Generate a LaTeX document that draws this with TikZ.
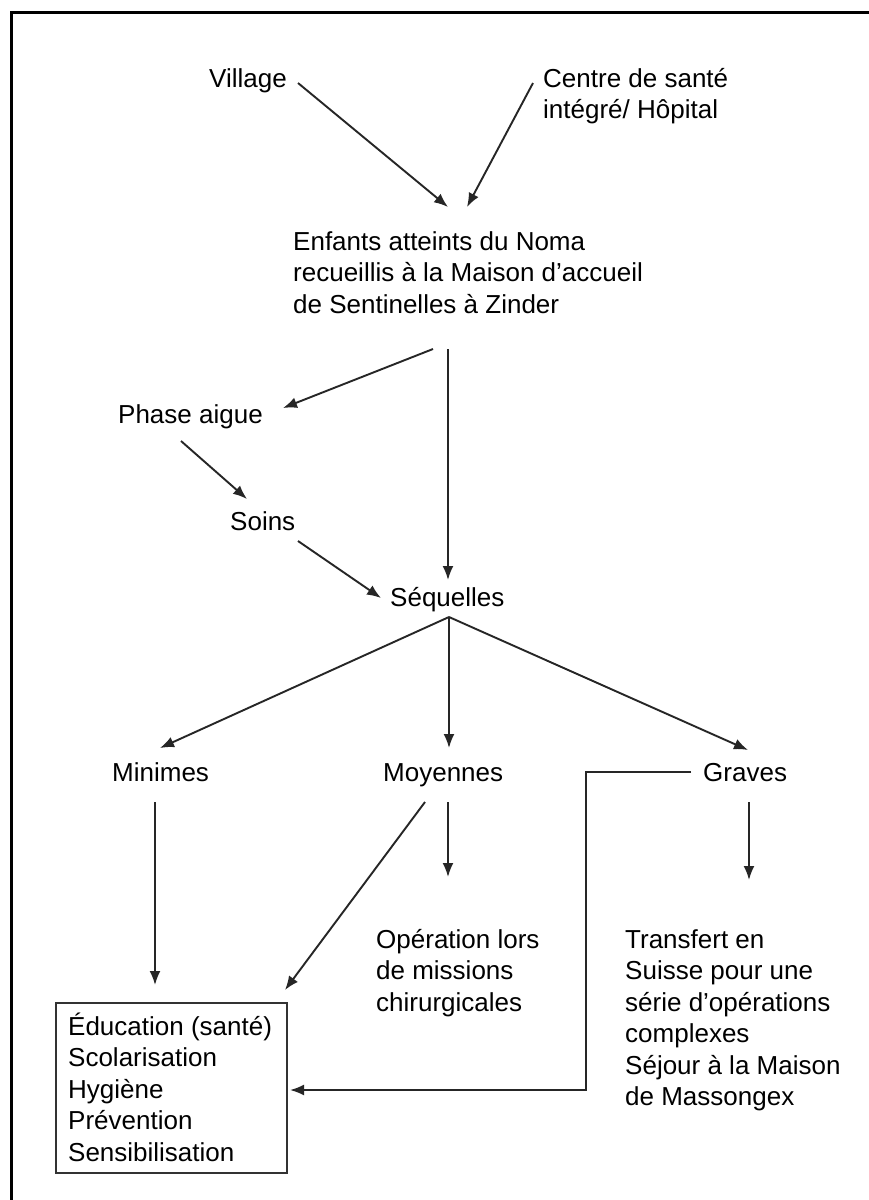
\documentclass[tikz,border=0pt]{standalone}
\usepackage{fontspec}
\setmainfont{Liberation Sans}
\usetikzlibrary{arrows.meta}
\begin{document}
\begin{tikzpicture}[x=1pt,y=-1pt,
  lbl/.style={anchor=base west,inner sep=0pt,align=left,font=\fontsize{26}{31.5}\selectfont},
  conn/.style={line width=1.9pt,draw=black!85},
  arr/.style={conn,-{Latex[length=14pt,width=11pt]}}]
\useasboundingbox (0,0) rectangle (869,1200);
\fill[white] (0,0) rectangle (869,1200);
\draw[line width=3pt] (869,12) -- (11,12) -- (11,1200);
% nodes (base = baseline of the last line)
\node[lbl] (village) at (209,87) {Village};
\node[lbl] (centre) at (543,118.5) {Centre de santé\\intégré/ Hôpital};
\node[lbl] (enfants) at (293,313) {Enfants atteints du Noma\\recueillis à la Maison d’accueil\\de Sentinelles à Zinder};
\node[lbl] (phase) at (118,423) {Phase aigue};
\node[lbl] (soins) at (230,530) {Soins};
\node[lbl] (sequelles) at (390,606) {Séquelles};
\node[lbl] (minimes) at (112,781) {Minimes};
\node[lbl] (moyennes) at (383,781) {Moyennes};
\node[lbl] (graves) at (703,781) {Graves};
\node[lbl] (operation) at (376,1011) {Opération lors\\de missions\\chirurgicales};
\node[lbl] (transfert) at (625,1105.5) {Transfert en\\Suisse pour une\\série d’opérations\\complexes\\Séjour à la Maison\\de Massongex};
\node[draw=black!80,line width=2.2pt,minimum width=231pt,minimum height=170pt,inner sep=0pt] (box) at (171.5,1088) {};
\node[lbl] (boxtext) at (68,1161) {Éducation (santé)\\Scolarisation\\Hygiène\\Prévention\\Sensibilisation};
% connector end points
\coordinate (v1) at (298,83);  \coordinate (v2) at (448,207);
\coordinate (c1) at (533,83);  \coordinate (c2) at (467,207);
\coordinate (e1) at (433,349); \coordinate (p1) at (283,408);
\coordinate (e2) at (448,349); \coordinate (s0) at (448,580);
\coordinate (p2) at (181,441); \coordinate (so1) at (247,499);
\coordinate (so2) at (298,541); \coordinate (s1) at (381,598);
\coordinate (apex) at (449,617);
\coordinate (mi1) at (160,748); \coordinate (mo1) at (449,748); \coordinate (g1) at (748,750);
\coordinate (mi2) at (155,802); \coordinate (bx1) at (155,985);
\coordinate (mo2) at (425,802); \coordinate (bx2) at (285,990);
\coordinate (mo3) at (448,802); \coordinate (op1) at (448,877);
\coordinate (g2) at (749,802);  \coordinate (tr1) at (749,880);
\coordinate (g3) at (691,772);  \coordinate (g4) at (586,772);
\coordinate (g5) at (586,1090); \coordinate (bx3) at (290,1090);
% connectors
\draw[arr] (v1) -- (v2);
\draw[arr] (c1) -- (c2);
\draw[arr] (e1) -- (p1);
\draw[arr] (e2) -- (s0);
\draw[arr] (p2) -- (so1);
\draw[arr] (so2) -- (s1);
\draw[arr] (apex) -- (mi1);
\draw[arr] (apex) -- (mo1);
\draw[arr] (apex) -- (g1);
\draw[arr] (mi2) -- (bx1);
\draw[arr] (mo2) -- (bx2);
\draw[arr] (mo3) -- (op1);
\draw[arr] (g2) -- (tr1);
\draw[arr] (g3) -- (g4) -- (g5) -- (bx3);
\end{tikzpicture}
\end{document}
